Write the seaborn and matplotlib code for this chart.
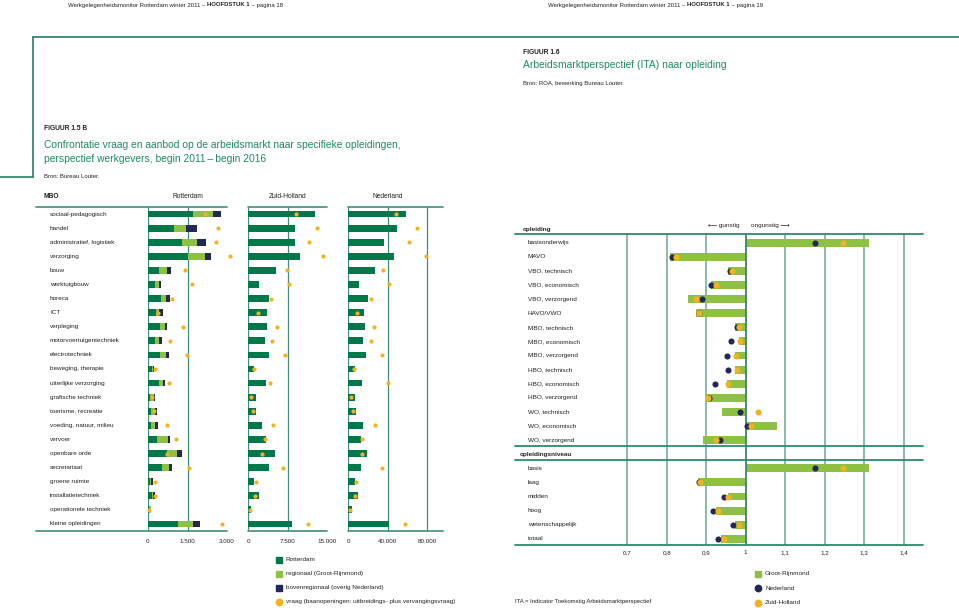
import matplotlib
matplotlib.use("Agg")
import matplotlib.pyplot as plt
import pandas as pd
import seaborn as sns

# ---------------- figuur 1.5 B : MBO opleidingen ----------------
mbo = ["sociaal-pedagogisch", "handel", "administratief, logistiek", "verzorging",
       "bouw", "werktuigbouw", "horeca", "ICT", "verpleging",
       "motorvoertuigentechniek", "electrotechniek", "beweging, therapie",
       "uiterlijke verzorging", "grafische techniek", "toerisme, recreatie",
       "voeding, natuur, milieu", "vervoer", "openbare orde", "secretariaat",
       "groene ruimte", "installatietechniek", "operationele techniek",
       "kleine opleidingen"]
# aanbod Rotterdam, gestapeld: Rotterdam + regionaal + bovenregionaal
rdam = [1710, 980, 1290, 1500, 430, 265, 480, 300, 455, 275, 455, 150,
        415, 75, 125, 125, 355, 705, 530, 75, 140, 40, 1150]
regionaal = [760, 480, 580, 655, 280, 140, 200, 100, 190, 150, 225, 50,
             165, 150, 150, 150, 400, 380, 275, 50, 65, 60, 565]
bovenregionaal = [310, 415, 325, 225, 175, 75, 150, 165, 90, 115, 100, 20,
                  75, 50, 75, 90, 65, 190, 125, 50, 75, 10, 250]
vraag_rdam = [2180, 2660, 2570, 3100, 1420, 1680, 920, 390, 1340, 840, 1470, 250,
              790, 150, 230, 710, 1050, 710, 1550, 280, 250, 50, 2800]
zh = [12700, 8900, 8900, 9800, 5200, 2100, 4000, 3500, 3600, 3100, 3900, 1100,
      3300, 1400, 1500, 2600, 3400, 5000, 3900, 1100, 2000, 500, 8400]
vraag_zh = [9100, 13000, 11500, 14200, 7400, 7800, 4300, 1800, 5400, 4500, 6900, 1000,
            4200, 600, 900, 4800, 3200, 2600, 6700, 1500, 1300, 250, 11300]
nl = [58300, 49200, 36600, 46800, 27100, 11200, 19700, 16300, 16600, 15300, 18300, 7100,
      14200, 7100, 7800, 15300, 12900, 19300, 12500, 6800, 9800, 3400, 41700]
vraag_nl = [48100, 69500, 62000, 79000, 34900, 41400, 22700, 8800, 26100, 23400, 34600, 5800,
            40000, 2700, 5100, 27100, 14200, 13600, 33900, 7500, 6800, 1700, 57600]

# ---------------- figuur 1.6 : ITA naar opleiding ----------------
opleidingen = ["basisonderwijs", "MAVO", "VBO, technisch", "VBO, economisch",
               "VBO, verzorgend", "HAVO/VWO", "MBO, technisch", "MBO, economisch",
               "MBO, verzorgend", "HBO, technisch", "HBO, economisch", "HBO, verzorgend",
               "WO, technisch", "WO, economisch", "WO, verzorgend"]
niveaus = ["basis", "laag", "midden", "hoog", "wetenschappelijk", "totaal"]
ita_gr = [1.311, 0.808, 0.956, 0.912, 0.855, 0.874, 0.974, 0.982, 0.972, 0.972,
          0.952, 0.899, 0.940, 1.080, 0.893,
          1.311, 0.880, 0.954, 0.925, 0.974, 0.938]
ita_nl = [1.176, 0.814, 0.959, 0.911, 0.889, 0.883, 0.977, 0.963, 0.952, 0.954,
          0.922, 0.908, 0.985, 1.004, 0.935,
          1.176, 0.882, 0.946, 0.917, 0.968, 0.931]
ita_zh = [1.246, 0.823, 0.965, 0.926, 0.873, 0.881, 0.982, 0.986, 0.976, 0.977,
          0.954, 0.904, 1.031, 1.013, 0.925,
          1.246, 0.884, 0.956, 0.929, 0.983, 0.944]
ita_ticks = [0.7, 0.8, 0.9, 1.0, 1.1, 1.2, 1.3, 1.4]
ita_ticklabels = ["0,7", "0,8", "0,9", "1", "1,1", "1,2", "1,3", "1,4"]

sns.set_style("white")
plt.rcParams["font.family"] = ["Liberation Sans", "DejaVu Sans"]

GREEN = "#00794a"
LIGHT = "#8ec043"
NAVY = "#232859"
ORANGE = "#f4b223"
LINE = "#3f8f7b"
FRAME = "#2a7d62"
TITLE = "#208a63"
TXT = "#222222"

W, H = 959, 608
fig = plt.figure(figsize=(W / 100, H / 100), dpi=100)


def box(x0, y0, x1, y1):
    return [x0 / W, 1 - y1 / H, (x1 - x0) / W, (y1 - y0) / H]


ov = fig.add_axes([0, 0, 1, 1])
ov.set_xlim(0, W)
ov.set_ylim(H, 0)
ov.axis("off")

# page header + frame
t = ov.text(68, 5, "Werkgelegenheidsmonitor Rotterdam winter 2011 \u2013 ", fontsize=4.3, va="center", color=TXT)
t = ov.annotate("HOOFDSTUK 1", xy=(1, 0), xycoords=t, va="bottom", fontsize=4.3, fontweight="bold", color=TXT)
ov.annotate(" \u2013 pagina 18", xy=(1, 0), xycoords=t, va="bottom", fontsize=4.3, color=TXT)
t = ov.text(548, 5, "Werkgelegenheidsmonitor Rotterdam winter 2011 \u2013 ", fontsize=4.3, va="center", color=TXT)
t = ov.annotate("HOOFDSTUK 1", xy=(1, 0), xycoords=t, va="bottom", fontsize=4.3, fontweight="bold", color=TXT)
ov.annotate(" \u2013 pagina 19", xy=(1, 0), xycoords=t, va="bottom", fontsize=4.3, color=TXT)
ov.plot([33, W], [37, 37], color=FRAME, lw=1.2)
ov.plot([33, 33], [37, 177], color=FRAME, lw=1.2)
ov.plot([0, 33], [177, 177], color=FRAME, lw=1.2)

# titles
ov.text(523, 52, "FIGUUR 1.6", fontsize=4.8, fontweight="bold", va="center", color=TXT)
ov.text(523, 65.5, "Arbeidsmarktperspectief (ITA) naar opleiding", fontsize=7.4, va="center", color=TITLE)
ov.text(523, 83, "Bron: ROA, bewerking Bureau Louter.", fontsize=4.3, va="center", color=TXT)
ov.text(44, 128.5, "FIGUUR 1.5 B", fontsize=4.8, fontweight="bold", va="center", color=TXT)
ov.text(44, 145, "Confrontatie vraag en aanbod op de arbeidsmarkt naar specifieke opleidingen,",
        fontsize=7.4, va="center", color=TITLE)
ov.text(44, 159, "perspectief werkgevers, begin 2011\u2009\u2013\u2009begin 2016", fontsize=7.4, va="center", color=TITLE)
ov.text(44, 177, "Bron: Bureau Louter.", fontsize=4.3, va="center", color=TXT)

# column headers
ov.text(44, 197, "MBO", fontsize=4.8, fontweight="bold", va="center", color=TXT)
for cx, name in [(188, "Rotterdam"), (288, "Zuid-Holland"), (388, "Nederland")]:
    ov.text(cx, 197, name, fontsize=4.8, ha="center", va="center", color=TXT)

# ---------------- left chart ----------------
df = pd.DataFrame({"opleiding": mbo, "rdam": rdam, "reg": regionaal, "bov": bovenregionaal,
                   "vraag_rdam": vraag_rdam, "zh": zh, "vraag_zh": vraag_zh,
                   "nl": nl, "vraag_nl": vraag_nl})
df["rdam_reg"] = df["rdam"] + df["reg"]
df["rdam_tot"] = df["rdam_reg"] + df["bov"]

panels = [
    (148, 227, 3000, ["rdam_tot", "rdam_reg", "rdam"], [NAVY, LIGHT, GREEN], "vraag_rdam",
     [0, 1500, 3000], ["0", "1.500", "3.000"], [0, 1500]),
    (248.3, 327, 15000, ["zh"], [GREEN], "vraag_zh",
     [0, 7500, 15000], ["0", "7.500", "15.000"], [0, 7500]),
    (348.3, 443, 96100, ["nl"], [GREEN], "vraag_nl",
     [0, 40000, 80000], ["0", "40.000", "80.000"], [0, 40000, 80000]),
]
axes_left = []
for x0, x1, xmax, cols, colors, vcol, ticks, labels, vlines in panels:
    ax = fig.add_axes(box(x0, 207, x1, 531))
    ax.patch.set_alpha(0)
    for col, c in zip(cols, colors):
        sns.barplot(data=df, x=col, y="opleiding", order=mbo, orient="h", color=c,
                    width=0.48, saturation=1, errorbar=None, linewidth=0, ax=ax, zorder=2)
    sns.stripplot(data=df, x=vcol, y="opleiding", order=mbo, orient="h", jitter=False,
                  color=ORANGE, size=3.0, linewidth=0, ax=ax, clip_on=False, zorder=4)
    for v in vlines:
        ax.axvline(v, color=LINE, lw=0.9, zorder=1)
    ax.set_xlim(0, xmax)
    ax.set_ylim(len(mbo) - 0.5, -0.5)
    ax.set_xlabel("")
    ax.set_ylabel("")
    ax.set_yticks([])
    ax.set_xticks(ticks, labels)
    ax.tick_params(axis="x", length=0, pad=5.5, labelsize=4.5, labelcolor=TXT)
    for s in ax.spines.values():
        s.set_visible(False)
    axes_left.append(ax)

ax_r = axes_left[0]
for i, lab in enumerate(mbo):
    ax_r.text((50 - 148) / 79, i, lab, transform=ax_r.get_yaxis_transform(),
              ha="left", va="center", fontsize=4.6, color=TXT)

for a, b in [(36, 227), (248.3, 327), (348.3, 443)]:
    ov.plot([a, b], [207, 207], color=LINE, lw=1.2)
    ov.plot([a, b], [531, 531], color=LINE, lw=1.2)

# legend left
leg_left = [("s", GREEN, "Rotterdam"), ("s", LIGHT, "regionaal (Groot-Rijnmond)"),
            ("s", NAVY, "bovenregionaal (overig Nederland)"),
            ("o", ORANGE, "vraag (baanopeningen: uitbreidings- plus vervangingsvraag)")]
for k, (m, c, lab) in enumerate(leg_left):
    y = 559.5 + 14.1 * k
    ov.plot(278.5, y, marker=m, color=c, markersize=4.6, linestyle="none")
    ov.text(285.5, y, lab, fontsize=4.6, va="center", color=TXT)

# ---------------- right chart ----------------
order = opleidingen + ["opleidingsniveau"] + niveaus
ita = pd.DataFrame({"opleiding": opleidingen + niveaus, "gr": ita_gr, "nl": ita_nl, "zh": ita_zh})
for c in ["gr", "nl", "zh"]:
    ita[c + "_d"] = ita[c] - 1

axr = fig.add_axes(box(515, 234.3, 923, 545))
axr.patch.set_alpha(0)
sns.barplot(data=ita, x="gr_d", y="opleiding", order=order, orient="h", color=LIGHT,
            width=0.56, saturation=1, errorbar=None, linewidth=0, ax=axr, zorder=2)
sns.stripplot(data=ita, x="nl_d", y="opleiding", order=order, orient="h", jitter=False,
              color=NAVY, size=4.4, linewidth=0, ax=axr, zorder=4)
sns.stripplot(data=ita, x="zh_d", y="opleiding", order=order, orient="h", jitter=False,
              color=ORANGE, size=4.4, linewidth=0, ax=axr, zorder=5)
for tv in ita_ticks:
    if tv == 1.0:
        axr.axvline(0, color="#3a8670", lw=1.3, zorder=3)
    else:
        axr.axvline(tv - 1, color="#6aa898", lw=1.1, zorder=1)
axr.set_xlim((515 - 745.7) / 395, (923 - 745.7) / 395)
ylo, yhi = len(order) - 0.56, -0.6
axr.set_ylim(ylo, yhi)
n_opl = len(opleidingen)
for yy in [yhi, n_opl - 0.6, n_opl + 0.43, ylo]:
    axr.axhline(yy, color="#2e8a6e", lw=1.3, clip_on=False, zorder=6)
axr.set_xlabel("")
axr.set_ylabel("")
axr.set_yticks([])
axr.set_xticks([tv - 1 for tv in ita_ticks], ita_ticklabels)
axr.tick_params(axis="x", length=0, pad=3.5, labelsize=4.5, labelcolor=TXT)
for s in axr.spines.values():
    s.set_visible(False)

ytr = axr.get_yaxis_transform()
for i, lab in enumerate(order):
    if lab == "opleidingsniveau":
        axr.text((520 - 515) / 408, i, lab, transform=ytr, ha="left", va="center",
                 fontsize=4.6, fontweight="bold", color=TXT)
    else:
        axr.text((528 - 515) / 408, i, lab, transform=ytr, ha="left", va="center",
                 fontsize=4.6, color=TXT)

ov.text(523, 229, "opleiding", fontsize=4.6, fontweight="bold", va="center", color=TXT)
ov.text(739, 225, "\u27f5 gunstig", fontsize=4.6, ha="right", va="center", color=TXT)
ov.text(751, 225, "ongunstig \u27f6", fontsize=4.6, ha="left", va="center", color=TXT)

leg_right = [("s", LIGHT, "Groot-Rijnmond"), ("o", NAVY, "Nederland"), ("o", ORANGE, "Zuid-Holland")]
for k, (m, c, lab) in enumerate(leg_right):
    y = 574 + 14.3 * k
    ov.plot(757.5, y, marker=m, color=c, markersize=4.6, linestyle="none")
    ov.text(765, y, lab, fontsize=4.6, va="center", color=TXT)
ov.text(515, 602, "ITA = Indicator Toekomstig Arbeidsmarktperspectief", fontsize=4.3, va="center", color=TXT)

fig.savefig("out.png", dpi=100)
